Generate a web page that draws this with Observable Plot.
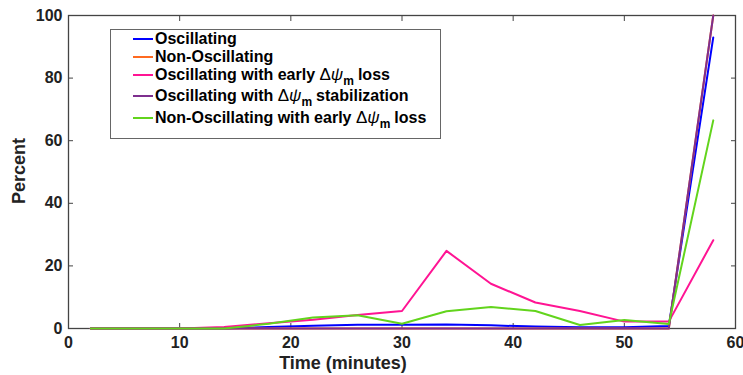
<!DOCTYPE html>
<html>
<head>
<meta charset="utf-8">
<script src="https://cdn.jsdelivr.net/npm/d3@7"></script>
<script src="https://cdn.jsdelivr.net/npm/@observablehq/plot@0.6"></script>
<style>
  body { margin: 0; background: #fff; }
  #wrap { position: relative; width: 743px; height: 375px; font-family: "Liberation Sans", Arial, sans-serif; }
  #legend { position: absolute; left: 110px; top: 29px; width: 331px; height: 110px; border: 1px solid #666; background: #fff; box-sizing: border-box; }
  .row { position: absolute; left: 0; height: 18px; line-height: 18px; display: flex; align-items: center; font-weight: bold; font-size: 16px; color: #000; white-space: nowrap; }
  .sw { display: inline-block; width: 20px; height: 2px; margin-left: 22px; margin-right: 2px; }
  .g { font-weight: normal; font-size: 17px; }
  .sub { position: relative; top: 5px; font-size: 12px; line-height: 10px; margin-right: 4px; }
</style>
</head>
<body>
<div id="wrap"><div id="legend"></div></div>
<script>
const time = [2, 6, 10, 14, 18, 22, 26, 30, 34, 38, 42, 46, 50, 54, 58];
const oscillating = [0, 0, 0, 0, 0.5, 0.9, 1.2, 1.2, 1.3, 1.0, 0.6, 0.4, 0.4, 0.8, 93];
const nonOscillating = [0, 0, 0, 0, 0, 0, 0, 0, 0, 0, 0, 0, 0, 0, 100];
const oscEarlyLoss = [0, 0, 0, 0.5, 1.7, 2.8, 4.3, 5.6, 24.8, 14.3, 8.3, 5.6, 2.2, 2.2, 28.2];
const oscStabilization = [0, 0, 0, 0, 0, 0, 0, 0, 0, 0, 0, 0, 0, 0, 100];
const nonOscEarlyLoss = [0, 0, 0, 0, 1.5, 3.5, 4.2, 1.5, 5.5, 6.9, 5.6, 1.1, 2.7, 1.4, 66.5];

const seriesNames = [
  "Oscillating",
  "Non-Oscillating",
  "Oscillating with early Δψm loss",
  "Oscillating with Δψm stabilization",
  "Non-Oscillating with early Δψm loss"
];
const seriesValues = [oscillating, nonOscillating, oscEarlyLoss, oscStabilization, nonOscEarlyLoss];
const colors = ["#0000ff", "#ff6a20", "#ff1493", "#7e2f8e", "#62d41c"];
const xTicks = [0, 10, 20, 30, 40, 50, 60];
const yTicks = [0, 20, 40, 60, 80, 100];

const rows = [];
seriesNames.forEach((s, i) => time.forEach((t, j) => rows.push({series: s, t, v: seriesValues[i][j]})));

const axisFont = {fontSize: 16, fontWeight: "bold", fill: "#222"};

const chart = Plot.plot({
  width: 743,
  height: 375,
  marginLeft: 68,
  marginRight: 8,
  marginTop: 15,
  marginBottom: 47,
  style: {fontFamily: "Liberation Sans, Arial, sans-serif", background: "#fff", overflow: "visible"},
  x: {domain: [0, 60]},
  y: {domain: [0, 100]},
  color: {domain: seriesNames, range: colors},
  marks: [
    Plot.axisX({ticks: xTicks, tickSize: -5, tickPadding: 13, label: null, stroke: "#444", ...axisFont}),
    Plot.axisX({ticks: xTicks, anchor: "top", tickSize: -5, tickFormat: () => "", label: null, stroke: "#444"}),
    Plot.axisY({ticks: yTicks, tickSize: -5, tickPadding: 11, label: null, stroke: "#444", ...axisFont}),
    Plot.axisY({ticks: yTicks, anchor: "right", tickSize: -5, tickFormat: () => "", label: null, stroke: "#444"}),
    Plot.frame({stroke: "#444", strokeWidth: 1.3}),
    Plot.line(rows, {x: "t", y: "v", z: "series", stroke: "series", strokeWidth: 2})
  ]
});

const svg = d3.select(chart);
svg.append("text")
  .attr("x", 343).attr("y", 369)
  .attr("text-anchor", "middle")
  .attr("font-size", 18).attr("font-weight", "bold").attr("fill", "#222")
  .text("Time (minutes)");
svg.append("text")
  .attr("transform", "translate(25,171) rotate(-90)")
  .attr("text-anchor", "middle")
  .attr("font-size", 18).attr("font-weight", "bold").attr("fill", "#222")
  .text("Percent");

document.getElementById("wrap").prepend(chart);

const legend = document.getElementById("legend");
const rowTops = [0, 18, 36, 57, 79];
seriesNames.forEach((name, i) => {
  const row = document.createElement("div");
  row.className = "row";
  row.style.top = rowTops[i] + "px";
  const sw = document.createElement("span");
  sw.className = "sw";
  sw.style.background = colors[i];
  row.appendChild(sw);
  const label = document.createElement("span");
  const parts = name.split("Δψm");
  if (parts.length === 2) {
    label.append(parts[0]);
    const g = document.createElement("span");
    g.className = "g";
    g.innerHTML = "Δ<i>ψ</i>";
    label.appendChild(g);
    const sub = document.createElement("span");
    sub.className = "sub";
    sub.textContent = "m";
    label.appendChild(sub);
    label.append(parts[1].trimStart());
  } else {
    label.append(name);
  }
  row.appendChild(label);
  legend.appendChild(row);
});
</script>
</body>
</html>
